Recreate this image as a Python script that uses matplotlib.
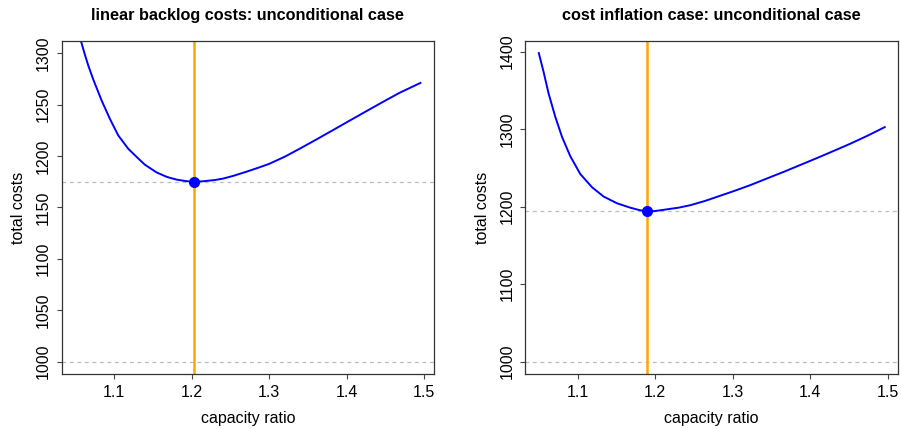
import matplotlib.pyplot as plt

plt.rcParams['font.family'] = ['Liberation Sans', 'DejaVu Sans']

# left panel: linear backlog costs
x_lin = [1.050, 1.0566, 1.0622, 1.0665, 1.0729, 1.0837, 1.0945, 1.1052,
         1.1181, 1.1300, 1.1396, 1.1547, 1.1680, 1.1805, 1.1920, 1.2024, 1.2150,
         1.2300, 1.2406, 1.2535, 1.2700, 1.2870, 1.3000, 1.3200, 1.3396, 1.3600,
         1.3826, 1.4050, 1.4257, 1.4470, 1.4686, 1.4953]
y_lin = [1329, 1313.0, 1298.4, 1288.0, 1274.5, 1254.0, 1236.0, 1220.0,
         1207.0, 1198.3, 1191.5, 1184.0, 1179.6, 1177.0, 1175.6, 1174.8, 1175.4,
         1176.6, 1178.0, 1180.6, 1184.5, 1188.8, 1192.3, 1199.2, 1207.1, 1215.6,
         1225.2, 1234.8, 1243.6, 1252.6, 1261.5, 1271.0]
opt_lin = (1.2024, 1174.8)

# right panel: cost inflation
x_inf = [1.0500, 1.0561, 1.0626, 1.0712, 1.0799, 1.0906, 1.1035, 1.1186, 1.1335,
         1.1508, 1.1680, 1.1800, 1.1899, 1.2000, 1.2154, 1.2300, 1.2454, 1.2640,
         1.2819, 1.3020, 1.3228, 1.3440, 1.3658, 1.3870, 1.4089, 1.4300, 1.4519,
         1.4740, 1.4961]
y_inf = [1398.0, 1374.0, 1346.0, 1316.0, 1290.0, 1265.0, 1242.0, 1225.0, 1213.0,
         1204.3, 1198.6, 1195.4, 1194.0, 1194.3, 1196.5, 1198.6, 1201.8, 1207.2,
         1213.3, 1220.2, 1227.7, 1236.2, 1244.8, 1253.6, 1262.7, 1271.7, 1281.2,
         1291.5, 1302.5]
opt_inf = (1.1899, 1194.0)

fig = plt.figure(figsize=(9.03, 4.29), dpi=100)
ax1 = fig.add_axes([0.0683, 0.1282, 0.4123, 0.7768])
ax2 = fig.add_axes([0.5814, 0.1282, 0.4127, 0.7768])


def panel(ax, x, y, opt, title, ylim, yticks):
    ax.axhline(1000, color='#bbbbbb', lw=0.9, ls=(0, (3, 3)))
    ax.axhline(opt[1], color='#bbbbbb', lw=0.9, ls=(0, (3, 3)))
    ax.axvline(opt[0], color='#FFA500', lw=1.8)
    ax.plot(x, y, color='#0000FF', lw=1.4)
    ax.plot([opt[0]], [opt[1]], 'o', color='#0000FF', ms=7)
    r = 1.495 - 1.05
    ax.set_xlim(1.05 - 0.04 * r, 1.495 + 0.04 * r)
    ry = ylim[1] - ylim[0]
    ax.set_ylim(ylim[0] - 0.04 * ry, ylim[1] + 0.04 * ry)
    ax.set_xticks([1.1, 1.2, 1.3, 1.4, 1.5])
    ax.set_yticks(yticks)
    ax.set_yticklabels([str(v) for v in yticks], rotation=90, va='center')
    ax.tick_params(labelsize=11.5, length=3.6, width=0.8, color='#444444', pad=4)
    for s in ax.spines.values():
        s.set_color('#333333')
        s.set_linewidth(0.9)
    ax.set_xlabel('capacity ratio', fontsize=11.5, labelpad=8)
    ax.set_ylabel('total costs', fontsize=11.5, labelpad=7)
    ax.set_title(title, fontsize=11.7, fontweight='bold', pad=15)


panel(ax1, x_lin, y_lin, opt_lin, 'linear backlog costs: unconditional case',
      (1000, 1300), [1000, 1050, 1100, 1150, 1200, 1250, 1300])
panel(ax2, x_inf, y_inf, opt_inf, 'cost inflation case: unconditional case',
      (1000, 1398), [1000, 1100, 1200, 1300, 1400])

fig.savefig('out.png', dpi=100)
